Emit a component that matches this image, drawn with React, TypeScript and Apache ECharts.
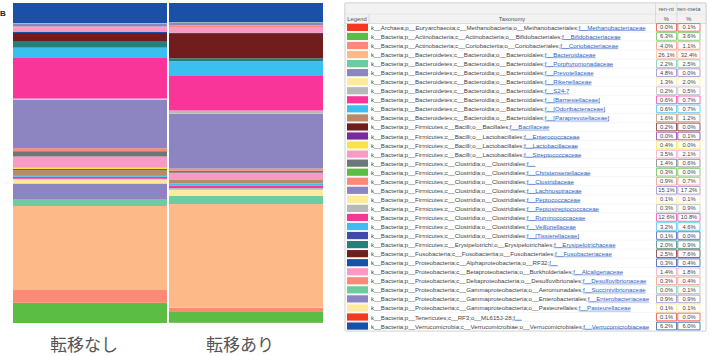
import React, { useEffect, useRef } from "react";
import * as echarts from "echarts";

const groups = ["転移なし", "転移あり"];

const taxa = [
  "k__Archaea;p__Euryarchaeota;c__Methanobacteria;o__Methanobacteriales;f__Methanobacteriaceae",
  "k__Bacteria;p__Actinobacteria;c__Actinobacteria;o__Bifidobacteriales;f__Bifidobacteriaceae",
  "k__Bacteria;p__Actinobacteria;c__Coriobacteriia;o__Coriobacteriales;f__Coriobacteriaceae",
  "k__Bacteria;p__Bacteroidetes;c__Bacteroidia;o__Bacteroidales;f__Bacteroidaceae",
  "k__Bacteria;p__Bacteroidetes;c__Bacteroidia;o__Bacteroidales;f__Porphyromonadaceae",
  "k__Bacteria;p__Bacteroidetes;c__Bacteroidia;o__Bacteroidales;f__Prevotellaceae",
  "k__Bacteria;p__Bacteroidetes;c__Bacteroidia;o__Bacteroidales;f__Rikenellaceae",
  "k__Bacteria;p__Bacteroidetes;c__Bacteroidia;o__Bacteroidales;f__S24-7",
  "k__Bacteria;p__Bacteroidetes;c__Bacteroidia;o__Bacteroidales;f__[Barnesiellaceae]",
  "k__Bacteria;p__Bacteroidetes;c__Bacteroidia;o__Bacteroidales;f__[Odoribacteraceae]",
  "k__Bacteria;p__Bacteroidetes;c__Bacteroidia;o__Bacteroidales;f__[Paraprevotellaceae]",
  "k__Bacteria;p__Firmicutes;c__Bacilli;o__Bacillales;f__Bacillaceae",
  "k__Bacteria;p__Firmicutes;c__Bacilli;o__Lactobacillales;f__Enterococcaceae",
  "k__Bacteria;p__Firmicutes;c__Bacilli;o__Lactobacillales;f__Lactobacillaceae",
  "k__Bacteria;p__Firmicutes;c__Bacilli;o__Lactobacillales;f__Streptococcaceae",
  "k__Bacteria;p__Firmicutes;c__Clostridia;o__Clostridiales;f__",
  "k__Bacteria;p__Firmicutes;c__Clostridia;o__Clostridiales;f__Christensenellaceae",
  "k__Bacteria;p__Firmicutes;c__Clostridia;o__Clostridiales;f__Clostridiaceae",
  "k__Bacteria;p__Firmicutes;c__Clostridia;o__Clostridiales;f__Lachnospiraceae",
  "k__Bacteria;p__Firmicutes;c__Clostridia;o__Clostridiales;f__Peptococcaceae",
  "k__Bacteria;p__Firmicutes;c__Clostridia;o__Clostridiales;f__Peptostreptococcaceae",
  "k__Bacteria;p__Firmicutes;c__Clostridia;o__Clostridiales;f__Ruminococcaceae",
  "k__Bacteria;p__Firmicutes;c__Clostridia;o__Clostridiales;f__Veillonellaceae",
  "k__Bacteria;p__Firmicutes;c__Clostridia;o__Clostridiales;f__[Tissierellaceae]",
  "k__Bacteria;p__Firmicutes;c__Erysipelotrichi;o__Erysipelotrichales;f__Erysipelotrichaceae",
  "k__Bacteria;p__Fusobacteria;c__Fusobacteriia;o__Fusobacteriales;f__Fusobacteriaceae",
  "k__Bacteria;p__Proteobacteria;c__Alphaproteobacteria;o__RF32;f__",
  "k__Bacteria;p__Proteobacteria;c__Betaproteobacteria;o__Burkholderiales;f__Alcaligenaceae",
  "k__Bacteria;p__Proteobacteria;c__Deltaproteobacteria;o__Desulfovibrionales;f__Desulfovibrionaceae",
  "k__Bacteria;p__Proteobacteria;c__Gammaproteobacteria;o__Aeromonadales;f__Succinivibrionaceae",
  "k__Bacteria;p__Proteobacteria;c__Gammaproteobacteria;o__Enterobacteriales;f__Enterobacteriaceae",
  "k__Bacteria;p__Proteobacteria;c__Gammaproteobacteria;o__Pasteurellales;f__Pasteurellaceae",
  "k__Bacteria;p__Tenericutes;c__RF3;o__ML615J-28;f__",
  "k__Bacteria;p__Verrucomicrobia;c__Verrucomicrobiae;o__Verrucomicrobiales;f__Verrucomicrobiaceae",
];

const colors = [
  "#f23a20", "#5cbd44", "#fc8a76", "#fdba88", "#6dcba0", "#8c85c1", "#fdea9c",
  "#b5b9b9", "#f9359a", "#3bbfee", "#b98a6a", "#721d1d", "#7a2a9a", "#f7e545",
  "#f89ac6", "#6e7777", "#5cbd44", "#fc8a76", "#8c85c1", "#fdea9c", "#b5b9b9",
  "#f9359a", "#3bbfee", "#3f4aab", "#277f7a", "#721d1d", "#1a50a8", "#f89ac6",
  "#fc8a76", "#6dcba0", "#8c85c1", "#fdea9c", "#f23a20", "#1a50a8",
];

const renNt = [
  0.0, 6.3, 4.0, 26.1, 2.2, 4.8, 1.3, 0.2, 0.6, 0.6, 1.6, 0.2, 0.0, 0.4, 3.5, 1.4, 0.3,
  0.9, 15.1, 0.1, 0.3, 12.6, 3.2, 0.1, 2.0, 2.5, 0.3, 1.4, 0.3, 0.0, 0.9, 0.1, 0.1, 6.2,
];

const renMeta = [
  0.1, 3.6, 1.1, 32.4, 2.5, 0.0, 2.0, 0.5, 0.7, 0.7, 1.2, 0.0, 0.1, 0.0, 2.1, 0.6, 0.0,
  0.7, 17.2, 0.1, 0.9, 10.8, 4.6, 0.0, 0.9, 7.6, 0.4, 1.8, 0.4, 0.1, 0.9, 0.1, 0.0, 6.0,
];

const headerCols = ["ren-nt", "ren-meta"];

export default function App() {
  const ref = useRef<HTMLDivElement>(null);

  useEffect(() => {
    document.body.style.margin = "0";
    const chart = echarts.init(ref.current!, undefined, { renderer: "svg" });

    const totNt = renNt.reduce((a, b) => a + b, 0);
    const totMeta = renMeta.reduce((a, b) => a + b, 0);

    const series = taxa.map((t, i) => ({
      name: t.split(";f__")[1] || t,
      type: "bar",
      stack: "all",
      barWidth: 154,
      itemStyle: { color: colors[i] },
      data: [(renNt[i] / totNt) * 100, (renMeta[i] / totMeta) * 100],
    }));

    const cv = document.createElement("canvas").getContext("2d")!;
    const fs = 6.1;
    cv.font = `${fs}px "Liberation Sans"`;

    const tL = 345, tR = 706, tT = 3, hMid = 14, hB = 23.5, tB = 331;
    const rowY0 = 27.4, rowH = 9.05;
    const c1L = 655.5, c1R = 677, c2R = 700.5;
    const textX = 371;

    const g: any[] = [];
    g.push({ type: "text", x: 0, y: 9, style: { text: "B", font: 'bold 8px "Liberation Sans"', fill: "#222" } });
    g.push({ type: "rect", shape: { x: tL, y: tT, width: tR - tL, height: tB - tT }, style: { fill: "#fff", stroke: "#cfcfcf", lineWidth: 1 } });
    g.push({ type: "rect", shape: { x: tL, y: tT, width: tR - tL, height: hB - tT }, style: { fill: "#f2f2f2", stroke: "#d4d4d4", lineWidth: 0.8 } });
    g.push({ type: "line", shape: { x1: c1L, y1: tT, x2: c1L, y2: hB }, style: { stroke: "#d4d4d4", lineWidth: 0.8 } });
    g.push({ type: "line", shape: { x1: c1R, y1: tT, x2: c1R, y2: hB }, style: { stroke: "#d4d4d4", lineWidth: 0.8 } });
    g.push({ type: "line", shape: { x1: tL, y1: hMid, x2: tR, y2: hMid }, style: { stroke: "#dddddd", lineWidth: 0.6 } });
    g.push({ type: "line", shape: { x1: 369, y1: hMid, x2: 369, y2: hB }, style: { stroke: "#d4d4d4", lineWidth: 0.8 } });
    const hs = { font: `5.8px "Liberation Sans"`, fill: "#555", align: "center", verticalAlign: "middle" };
    g.push({ type: "text", x: 357, y: 18.8, style: { ...hs, text: "Legend" } });
    g.push({ type: "text", x: 512, y: 18.8, style: { ...hs, text: "Taxonomy" } });
    g.push({ type: "text", x: (c1L + c1R) / 2, y: 9, style: { ...hs, text: headerCols[0] } });
    g.push({ type: "text", x: (c1R + c2R) / 2, y: 9, style: { ...hs, text: headerCols[1] } });
    g.push({ type: "text", x: (c1L + c1R) / 2, y: 18.8, style: { ...hs, text: "%" } });
    g.push({ type: "text", x: (c1R + c2R) / 2, y: 18.8, style: { ...hs, text: "%" } });

    taxa.forEach((t, i) => {
      const cy = rowY0 + i * rowH;
      const idx = t.lastIndexOf("f__");
      const pre = t.slice(0, idx);
      const fam = t.slice(idx);
      g.push({ type: "line", shape: { x1: tL, y1: cy + rowH / 2, x2: tR, y2: cy + rowH / 2 }, style: { stroke: "#efefef", lineWidth: 0.5 } });
      g.push({ type: "rect", shape: { x: 347, y: cy - 3.6, width: 21, height: 7.2 }, style: { fill: colors[i] } });
      g.push({
        type: "text",
        x: textX,
        y: cy,
        style: {
          text: `{a|${pre}}{b|${fam}}`,
          verticalAlign: "middle",
          font: `${fs}px "Liberation Sans"`,
          rich: {
            a: { fill: "#444", fontSize: fs, fontFamily: "Liberation Sans" },
            b: { fill: "#2d5fc5", fontSize: fs, fontFamily: "Liberation Sans" },
          },
        },
      });
      const wPre = cv.measureText(pre).width;
      const wAll = cv.measureText(t).width;
      g.push({ type: "line", shape: { x1: textX + wPre, y1: cy + 3.1, x2: textX + wAll, y2: cy + 3.1 }, style: { stroke: "#2d5fc5", lineWidth: 0.5 } });
      g.push({ type: "rect", shape: { x: c1L + 1, y: cy - 3.8, width: c1R - c1L - 1.5, height: 7.6 }, style: { fill: "#fff", stroke: colors[i], lineWidth: 0.8, opacity: 0.9 } });
      g.push({ type: "rect", shape: { x: c1R + 0.8, y: cy - 3.8, width: c2R - c1R - 1.3, height: 7.6 }, style: { fill: "#fff", stroke: colors[i], lineWidth: 0.8, opacity: 0.9 } });
      const vs = { font: `5.8px "Liberation Sans"`, fill: "#444", align: "center", verticalAlign: "middle" };
      g.push({ type: "text", x: (c1L + c1R) / 2 + 0.3, y: cy, style: { ...vs, text: renNt[i].toFixed(1) + "%" } });
      g.push({ type: "text", x: (c1R + c2R) / 2 + 0.3, y: cy, style: { ...vs, text: renMeta[i].toFixed(1) + "%" } });
    });

    chart.setOption({
      animation: false,
      grid: { left: 12, top: 3, width: 312, height: 320 },
      xAxis: {
        type: "category",
        data: groups,
        axisLine: { show: false },
        axisTick: { show: false },
        axisLabel: {
          fontSize: 17,
          color: "#555",
          fontFamily: "Noto Sans CJK JP",
          margin: 12,
          padding: [0, 12, 0, 0],
        },
      },
      yAxis: { type: "value", min: 0, max: 100, show: false },
      series,
      graphic: g,
    });

    return () => chart.dispose();
  }, []);

  return <div ref={ref} style={{ width: 711, height: 356 }} />;
}
